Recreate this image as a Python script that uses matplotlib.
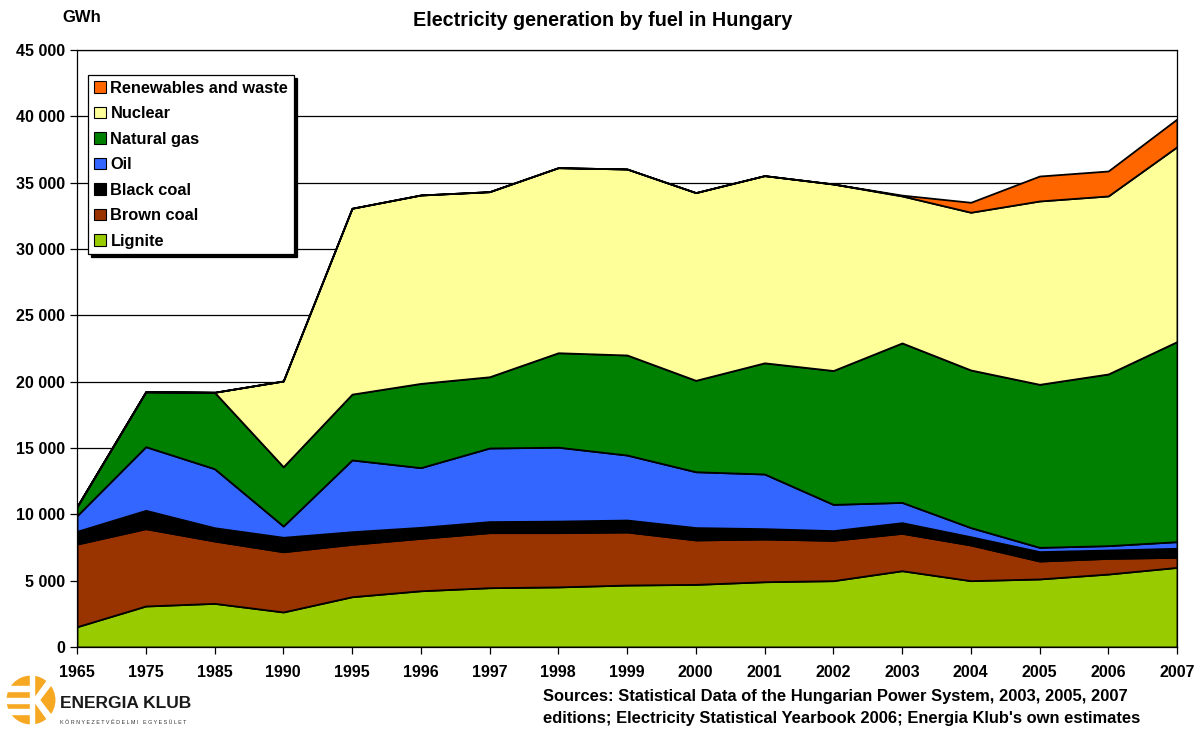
import numpy as np
import matplotlib
matplotlib.use("Agg")
import matplotlib.pyplot as plt
from matplotlib.patches import Patch, Circle, Rectangle, Polygon

plt.rcParams['font.family'] = ['Liberation Sans', 'DejaVu Sans']
plt.rcParams['font.weight'] = 'bold'

years = ['1965', '1975', '1985', '1990', '1995', '1996', '1997', '1998', '1999',
         '2000', '2001', '2002', '2003', '2004', '2005', '2006', '2007']

# GWh per fuel
lignite = [1530, 3090, 3290, 2640, 3790, 4240, 4470, 4530, 4670, 4720, 4920, 5000, 5750, 5000, 5130, 5500, 6000]
brown_coal = [6230, 5830, 4700, 4540, 3950, 3950, 4150, 4090, 4000, 3350, 3220, 3040, 2820, 2690, 1350, 1180, 760]
black_coal = [960, 1380, 1000, 1090, 950, 830, 830, 870, 900, 930, 780, 730, 800, 620, 710, 630, 680]
oil = [1180, 4800, 4450, 850, 5410, 4500, 5550, 5570, 4900, 4210, 4120, 1980, 1530, 690, 320, 330, 500]
natural_gas = [680, 4140, 5760, 4470, 4960, 6350, 5370, 7120, 7540, 6890, 8380, 10090, 12020, 11880, 12290, 12940, 15080]
nuclear = [0, 0, 0, 6460, 14010, 14200, 13950, 13950, 14020, 14150, 14110, 14060, 11080, 11890, 13820, 13420, 14690]
renewables = [0, 0, 0, 0, 0, 0, 0, 0, 0, 0, 0, 0, 60, 750, 1880, 1880, 2090]

labels = ['Lignite', 'Brown coal', 'Black coal', 'Oil', 'Natural gas', 'Nuclear', 'Renewables and waste']
colors = ['#99CC00', '#993300', '#000000', '#3366FF', '#008000', '#FFFF99', '#FF6600']

fig = plt.figure(figsize=(12.04, 7.31), dpi=100)
ax = fig.add_axes([77 / 1204, 84 / 731, 1100 / 1204, 597 / 731])

x = np.arange(len(years))
ax.stackplot(x, lignite, brown_coal, black_coal, oil, natural_gas, nuclear, renewables,
             colors=colors, edgecolor='black', linewidth=1.3, zorder=3)

ax.set_xlim(0, len(years) - 1)
ax.set_ylim(0, 45000)
ax.set_yticks(np.arange(0, 45001, 5000))
ax.set_yticklabels([f"{v:,}".replace(',', ' ') for v in range(0, 45001, 5000)])
ax.set_xticks(x)
ax.set_xticklabels(years)
ax.grid(axis='y', color='black', linewidth=0.9, zorder=0)
ax.tick_params(axis='both', labelsize=11.5, length=5, width=0.9, direction='out')
ax.tick_params(axis='x', pad=8)
for lab in ax.get_xticklabels() + ax.get_yticklabels():
    lab.set_fontweight('bold')
for sp in ax.spines.values():
    sp.set_linewidth(0.9)
    sp.set_zorder(4)

handles = [Patch(facecolor=c, edgecolor='black', linewidth=0.8) for c in colors]
leg = ax.legend(handles[::-1], labels[::-1], loc='upper left', bbox_to_anchor=(0.01, 0.958),
                borderaxespad=0, fancybox=False, shadow={'color': 'black', 'alpha': 1},
                framealpha=1, edgecolor='black', prop={'weight': 'bold', 'size': 11.8},
                handlelength=0.72, handleheight=0.72, handletextpad=0.3,
                labelspacing=0.64, borderpad=0.35)
leg.get_frame().set_linewidth(0.9)
leg.set_zorder(10)

fig.text(603 / 1204, 1 - 20 / 731, 'Electricity generation by fuel in Hungary',
         ha='center', va='center', fontsize=14.2, fontweight='bold')
fig.text(62 / 1204, 1 - 17 / 731, 'GWh', ha='left', va='center', fontsize=12, fontweight='bold')
fig.text(543 / 1204, 1 - 697 / 731,
         "Sources: Statistical Data of the Hungarian Power System, 2003, 2005, 2007",
         ha='left', va='center', fontsize=11.9, fontweight='bold')
fig.text(543 / 1204, 1 - 719 / 731,
         "editions; Electricity Statistical Yearbook 2006; Energia Klub's own estimates",
         ha='left', va='center', fontsize=11.9, fontweight='bold')

# simplified Energia Klub logo
lax = fig.add_axes([6 / 1204, 1 - 725 / 731, 50 / 1204, 50 / 731])
lax.set_xlim(-1, 1)
lax.set_ylim(-1, 1)
lax.set_aspect('equal')
lax.axis('off')
lax.add_patch(Circle((0, 0), 0.95, color='#F7A823'))
for yy in (0.45, 0.0, -0.45):
    lax.add_patch(Rectangle((-1, yy - 0.1), 0.95, 0.2, color='white'))
lax.add_patch(Rectangle((-0.05, -1), 0.18, 2, color='white'))
lax.add_patch(Polygon([(0.13, 0.05), (0.75, 0.9), (0.95, 0.8), (0.3, -0.05)], color='white'))
lax.add_patch(Polygon([(0.13, -0.05), (0.75, -0.9), (0.95, -0.8), (0.3, 0.05)], color='white'))

fig.text(60 / 1204, 1 - 704 / 731, 'ENERGIA KLUB', ha='left', va='center',
         fontsize=12.5, fontweight='bold', color='#1a1a1a')
fig.text(60 / 1204, 1 - 722 / 731, 'K Ö R N Y E Z E T V É D E L M I   E G Y E S Ü L E T',
         ha='left', va='center', fontsize=3.9, fontweight='normal', color='#333333')

fig.savefig('out.png', dpi=100)
